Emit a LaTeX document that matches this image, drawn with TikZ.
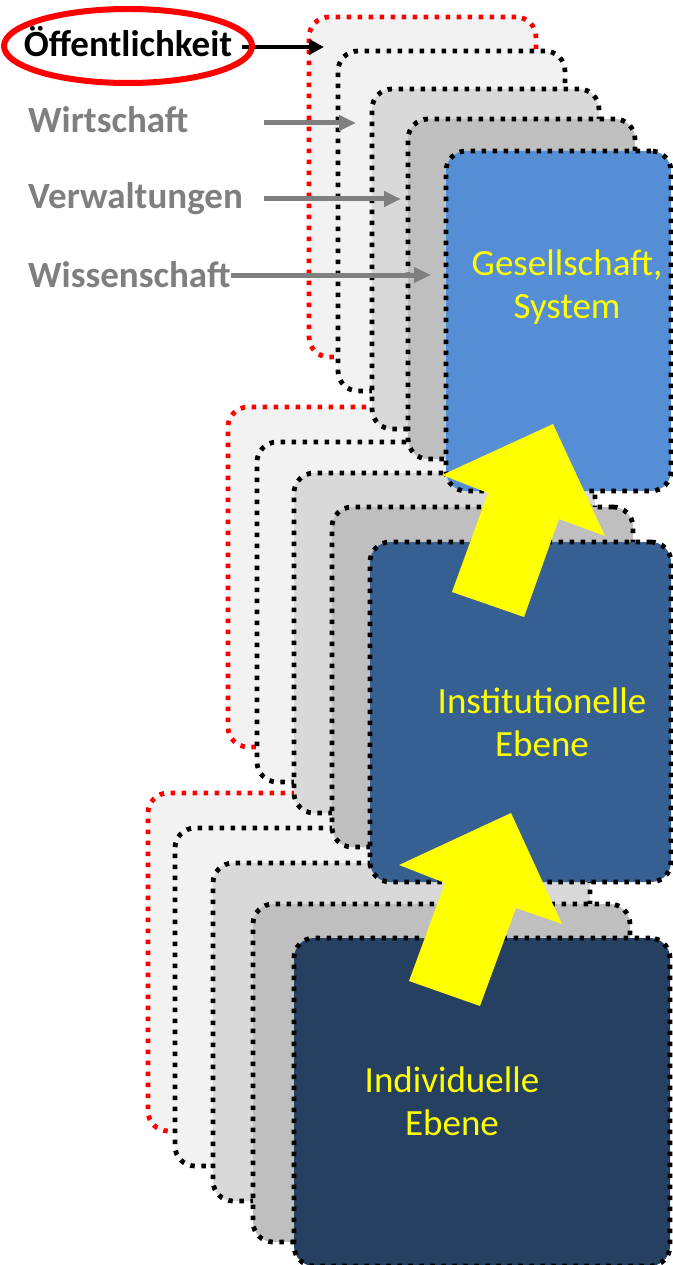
\documentclass[tikz,border=0pt]{standalone}
\usepackage{fontspec}
\setmainfont{Carlito}
\usetikzlibrary{arrows.meta,shapes.geometric}
\definecolor{lgA}{HTML}{F2F2F2}
\definecolor{lgB}{HTML}{D9D9D9}
\definecolor{lgC}{HTML}{BFBFBF}
\definecolor{blueA}{HTML}{558ED5}
\definecolor{blueB}{HTML}{376092}
\definecolor{blueC}{HTML}{254061}
\definecolor{labgray}{HTML}{7F7F7F}
\definecolor{pureyellow}{HTML}{FFFF00}
\begin{document}
\begin{tikzpicture}[x=1pt,y=-1pt,
  layer/.style={draw=black, line width=4.8pt, dash pattern=on 4.5pt off 6.5pt,
    rounded corners=20pt, inner sep=0pt, outer sep=0pt, anchor=north west},
  redlayer/.style={layer, draw=red},
  topw/.style={minimum width=227pt, minimum height=340pt},
  midw/.style={minimum width=301pt, minimum height=340pt},
  botw/.style={minimum width=377pt, minimum height=338pt},
  leveltext/.style={text=pureyellow, align=center, anchor=base, inner sep=0pt,
    font=\fontsize{37}{43}\selectfont},
  sidelabel/.style={text=labgray, anchor=base west, inner sep=0pt,
    font=\fontsize{37}{43}\selectfont\bfseries},
  sidearrow/.style={draw=labgray, line width=5pt, -{Triangle[length=17pt,width=15pt]}},
  bigarrow/.style={fill=pureyellow}
]
\useasboundingbox (0,0) rectangle (672,1265);

% bottom stack
\node[redlayer, botw, fill=lgA] (b1) at (148,793) {};
\node[layer, botw, fill=lgA] (b2) at (175,828) {};
\node[layer, botw, fill=lgB] (b3) at (213,863) {};
\node[layer, botw, fill=lgC] (b4) at (253,904) {};
\node[layer, botw, minimum height=328pt, minimum width=376pt, fill=blueC] (b5) at (294,938) {};

% middle stack
\node[redlayer, midw, fill=lgA] (m1) at (228,407) {};
\node[layer, midw, fill=lgA] (m2) at (257,442) {};
\node[layer, midw, fill=lgB] (m3) at (294,473) {};
\node[layer, midw, fill=lgC] (m4) at (332,507) {};
\node[layer, midw, fill=blueB] (m5) at (370,542) {};

% top stack
\node[redlayer, topw, fill=lgA] (t1) at (309,17) {};
\node[layer, topw, fill=lgA] (t2) at (338,51) {};
\node[layer, topw, fill=lgB] (t3) at (372,89) {};
\node[layer, topw, fill=lgC] (t4) at (408,119) {};
\node[layer, topw, minimum width=225pt, fill=blueA] (t5) at (446,151) {};

% level texts (anchor = baseline of last line)
\node[leveltext] (gs) at (567,318) {Gesellschaft,\\System};
\node[leveltext] (ie) at (542,756) {Institutionelle\\Ebene};
\node[leveltext] (ind) at (452,1135) {Individuelle\\Ebene};

% yellow block arrows
\fill[bigarrow] (553,424) -- (605,536) -- (559,519) -- (524,617) -- (452,592)
  -- (488,493) -- (442,475) -- cycle;
\fill[bigarrow] (511,813) -- (562,924) -- (516,908) -- (480,1006) -- (409,981)
  -- (445,883) -- (399,865) -- cycle;

% side labels
\node[sidelabel, text=black, anchor=base] (oef) at (128,57) {Öffentlichkeit};
\node[sidelabel] (wir) at (28,133) {Wirtschaft};
\node[sidelabel] (ver) at (28,209) {Verwaltungen};
\node[sidelabel] (wis) at (28,287) {Wissenschaft};

\coordinate (oa) at (242,47);
\coordinate (ob) at (324,47);
\draw[black, line width=4pt, -{Triangle[length=15pt,width=15pt]}] (oa) -- (ob);
\draw[red, line width=6pt] (128,46) ellipse [x radius=124pt, y radius=37pt];

\coordinate (wa) at (264,123);
\coordinate (wb) at (356,123);
\draw[sidearrow] (wa) -- (wb);
\coordinate (va) at (264,199);
\coordinate (vb) at (401,199);
\draw[sidearrow] (va) -- (vb);
\coordinate (sb) at (431,275);
\draw[sidearrow] (wis.east |- sb) -- (sb);
\end{tikzpicture}
\end{document}
